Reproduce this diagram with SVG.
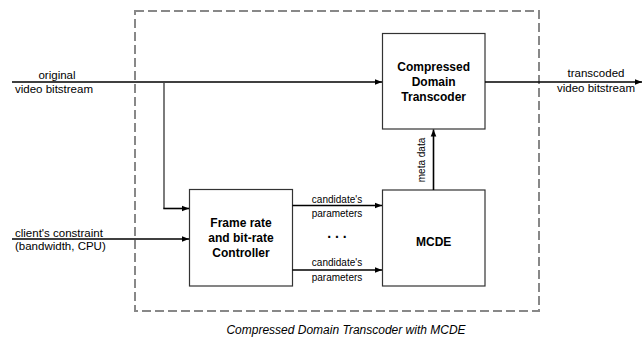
<svg xmlns="http://www.w3.org/2000/svg" width="644" height="337" viewBox="0 0 644 337">
  <style>
    text { font-family: "Liberation Sans", Arial, sans-serif; fill: #000; }
    .box { fill: #fff; stroke: #333; stroke-width: 1.2; }
    .title { font-size: 12px; font-weight: bold; text-anchor: middle; }
    .side { font-size: 11.5px; }
    .small { font-size: 10px; text-anchor: middle; }
    .wire { fill: none; stroke: #000; stroke-width: 1.6; }
    .frame { fill: none; stroke: #888; stroke-width: 2; stroke-dasharray: 9 4; }
  </style>
  <defs>
    <marker id="arrow" markerWidth="8" markerHeight="8" refX="7" refY="4" orient="auto" markerUnits="userSpaceOnUse">
      <path d="M0,1.2 L7,4 L0,6.8 Z" fill="#000"/>
    </marker>
  </defs>

  <rect width="644" height="337" fill="#fff"/>

  <!-- system boundary -->
  <rect class="frame" x="135" y="11" width="404" height="300"/>

  <g id="transcoder">
    <rect class="box" x="382.5" y="33.5" width="102.5" height="95.5"/>
    <text class="title" x="433.7" y="71">Compressed</text>
    <text class="title" x="433.7" y="86">Domain</text>
    <text class="title" x="433.7" y="101">Transcoder</text>
  </g>

  <g id="controller">
    <rect class="box" x="189.5" y="189.5" width="103" height="96.5"/>
    <text class="title" x="241" y="227">Frame rate</text>
    <text class="title" x="241" y="242">and bit-rate</text>
    <text class="title" x="241" y="257">Controller</text>
  </g>

  <g id="mcde">
    <rect class="box" x="382.5" y="190" width="102.5" height="96"/>
    <text class="title" x="433.7" y="246">MCDE</text>
  </g>

  <g id="connectors">
    <!-- original bitstream into transcoder -->
    <line class="wire" x1="12" y1="82" x2="382" y2="82" marker-end="url(#arrow)"/>
    <!-- branch down to controller -->
    <line x1="164" y1="82" x2="164" y2="208.5" stroke="#444" stroke-width="1.4"/>
    <line class="wire" x1="163.3" y1="208.5" x2="189" y2="208.5" marker-end="url(#arrow)"/>
    <!-- client constraint -->
    <line class="wire" x1="12" y1="239" x2="189" y2="239" marker-end="url(#arrow)"/>
    <!-- candidate parameters -->
    <line class="wire" x1="292.5" y1="205.5" x2="382" y2="205.5" marker-end="url(#arrow)"/>
    <line class="wire" x1="292.5" y1="270" x2="382" y2="270" marker-end="url(#arrow)"/>
    <!-- meta data up to transcoder -->
    <line class="wire" x1="433.5" y1="190" x2="433.5" y2="129.5" marker-end="url(#arrow)"/>
    <!-- transcoded output -->
    <line class="wire" x1="485" y1="82" x2="642" y2="82" marker-end="url(#arrow)"/>
  </g>

  <g id="labels">
    <text class="side" x="57" y="79" text-anchor="middle">original</text>
    <text class="side" x="15" y="93">video bitstream</text>
    <text class="side" x="15" y="236.5">client's constraint</text>
    <text class="side" x="15" y="250">(bandwidth, CPU)</text>
    <text class="side" x="596" y="77" text-anchor="middle">transcoded</text>
    <text class="side" x="596" y="91.5" text-anchor="middle">video bitstream</text>
    <text class="small" x="337" y="202.5">candidate's</text>
    <text class="small" x="337" y="216.5">parameters</text>
    <text x="337" y="238" font-size="14" font-weight="bold" text-anchor="middle">. . .</text>
    <text class="small" x="337" y="265.5">candidate's</text>
    <text class="small" x="337" y="280.5">parameters</text>
    <text class="small" transform="translate(425,160) rotate(-90)" font-size="10.5">meta data</text>
    <text x="346" y="334" font-size="12" font-style="italic" text-anchor="middle">Compressed Domain Transcoder with MCDE</text>
  </g>
</svg>
